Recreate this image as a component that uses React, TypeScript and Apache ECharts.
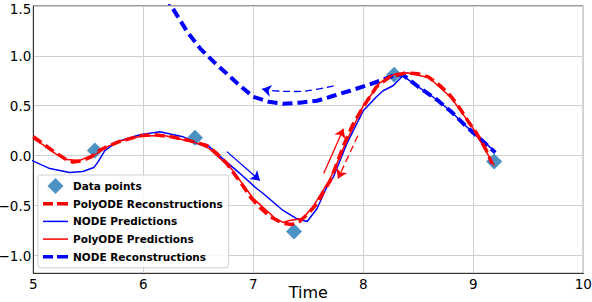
import React, { useEffect, useRef } from "react";
import * as echarts from "echarts";

// Observations
const obsX = [5.56, 6.47, 7.37, 8.28, 9.19];
const obsY = [0.05, 0.18, -0.76, 0.81, -0.06];

// PolyODE reconstructions (thick red dashed)
const polyRecX = [5.0, 5.1, 5.2, 5.3, 5.36, 5.45, 5.53, 5.6, 5.67, 5.78, 5.88, 5.97, 6.1, 6.25, 6.42, 6.58, 6.67, 6.76, 6.91, 6.97, 7.06, 7.15, 7.27, 7.35, 7.42, 7.5, 7.58, 7.65, 7.7, 7.77, 7.82, 7.9, 8.0, 8.12, 8.24, 8.39, 8.5, 8.59, 8.7, 8.8, 8.88, 8.95, 9.02, 9.07, 9.12, 9.17];
const polyRecY = [0.19, 0.11, 0.03, -0.04, -0.065, -0.05, -0.01, 0.05, 0.09, 0.14, 0.17, 0.2, 0.21, 0.19, 0.15, 0.1, 0.02, -0.08, -0.31, -0.41, -0.52, -0.61, -0.68, -0.69, -0.66, -0.58, -0.48, -0.34, -0.25, -0.05, 0.1, 0.3, 0.49, 0.69, 0.79, 0.83, 0.82, 0.79, 0.7, 0.59, 0.47, 0.35, 0.24, 0.15, 0.05, -0.08];

// PolyODE predictions (thin red solid)
const polyPredX = [5.0, 5.1, 5.2, 5.3, 5.42, 5.5, 5.58, 5.65, 5.8, 6.0, 6.2, 6.4, 6.5, 6.6, 6.8, 7.0, 7.2, 7.27, 7.33, 7.45, 7.55, 7.7, 7.85, 8.0, 8.15, 8.29, 8.4, 8.6, 8.8, 9.0, 9.19];
const polyPredY = [0.17, 0.1, 0.02, -0.04, -0.05, -0.01, 0.02, 0.08, 0.15, 0.2, 0.2, 0.15, 0.12, 0.07, -0.13, -0.43, -0.63, -0.67, -0.65, -0.63, -0.5, -0.23, 0.15, 0.5, 0.73, 0.82, 0.83, 0.78, 0.58, 0.27, -0.1];

// NODE predictions (thin blue solid)
const nodePredX = [4.97, 5.15, 5.33, 5.45, 5.55, 5.59, 5.65, 5.76, 5.97, 6.15, 6.36, 6.49, 6.58, 6.7, 6.88, 7.03, 7.09, 7.27, 7.39, 7.49, 7.58, 7.67, 7.73, 7.85, 8.0, 8.12, 8.18, 8.27, 8.36, 8.5, 8.67, 8.8, 8.91, 9.05, 9.2];
const nodePredY = [-0.04, -0.13, -0.17, -0.16, -0.12, -0.06, 0.05, 0.14, 0.21, 0.24, 0.19, 0.12, 0.11, -0.01, -0.18, -0.33, -0.38, -0.55, -0.63, -0.66, -0.53, -0.31, -0.21, 0.12, 0.45, 0.59, 0.65, 0.7, 0.8, 0.69, 0.56, 0.44, 0.32, 0.18, 0.04];

// NODE reconstructions (thick blue dashed)
const nodeRecX = [6.2, 6.26, 6.4, 6.52, 6.65, 6.76, 6.88, 7.0, 7.14, 7.27, 7.42, 7.58, 7.73, 7.88, 8.02, 8.15, 8.27, 8.36, 8.5, 8.67, 8.8, 8.91, 9.05, 9.2];
const nodeRecY = [1.6, 1.49, 1.24, 1.07, 0.93, 0.82, 0.7, 0.59, 0.54, 0.52, 0.53, 0.55, 0.6, 0.65, 0.7, 0.75, 0.8, 0.81, 0.69, 0.56, 0.44, 0.32, 0.18, 0.03];

// Annotation arrows [x1, y1, x2, y2]
const arrowNodePred = [6.76, 0.04, 7.06, -0.25];
const arrowPolyPred = [7.64, -0.18, 7.82, 0.27];
const arrowPolyRec = [7.95, 0.2, 7.77, -0.23];
// Curved (dashed blue) arrow: body points and head segment
const curvedArrowX = [7.73, 7.55, 7.38, 7.22, 7.1];
const curvedArrowY = [0.7, 0.66, 0.643, 0.648, 0.662];
const curvedHead = [7.12, 0.658, 7.08, 0.667];

const legendNames = [
  "Data points",
  "PolyODE Reconstructions",
  "NODE Predictions",
  "PolyODE Predictions",
  "NODE Reconstructions",
];

const BLUE = "#0000ff";
const RED = "#ff0000";
const DOT = "#1f77b4";
const ICON_DIAMOND = "path://M8,0L16,8L8,16L0,8Z";
const ICON_DASH = "path://M0,0H10V3.6H0Z M14,0H25V3.6H14Z";
const ICON_LINE = "path://M0,0H25V1.5H0Z";
const legendIcons = [ICON_DIAMOND, ICON_DASH, ICON_LINE, ICON_LINE, ICON_DASH];
const legendColors = [DOT, RED, BLUE, RED, BLUE];

const zip = (xs: number[], ys: number[]) => xs.map((x, i) => [x, ys[i]]);

const arrow = (a: number[], color: string, dashed: boolean, width = 1.3) => [
  {
    coord: [a[0], a[1]],
    lineStyle: { color, width, type: dashed ? [7, 4] : "solid" },
    itemStyle: { color },
  },
  { coord: [a[2], a[3]], itemStyle: { color } },
];

export default function App() {
  const ref = useRef<HTMLDivElement>(null);
  useEffect(() => {
    if (!ref.current) return;
    const chart = echarts.init(ref.current, undefined, { renderer: "svg" });
    const font = "DejaVu Sans";
    chart.setOption({
      animation: false,
      grid: {
        left: 33.3,
        right: 8.7,
        top: 6,
        bottom: 28.7,
        show: true,
        borderColor: "#333",
        borderWidth: 1,
        outerBoundsMode: "none",
        containLabel: false,
      },
      legend: {
        data: legendNames.map((n, i) => ({
          name: n,
          icon: legendIcons[i],
          itemStyle: { color: legendColors[i], borderWidth: 0 },
        })),
        orient: "vertical",
        left: 38,
        top: 175,
        itemWidth: 25,
        itemHeight: 16,
        itemGap: 1.7,
        symbolKeepAspect: true,
        padding: [3, 6, 3, 5],
        backgroundColor: "rgba(255,255,255,0.85)",
        borderColor: "#d0d0d0",
        borderWidth: 1,
        borderRadius: 3,
        textStyle: { fontFamily: font, fontSize: 10.5, fontWeight: "bold", color: "#000", lineHeight: 16 },
      },
      xAxis: {
        type: "value",
        min: 5,
        max: 10,
        interval: 1,
        name: "Time",
        nameLocation: "middle",
        nameGap: 12.5,
        nameMoveOverlap: false,
        nameTextStyle: { fontFamily: font, fontSize: 16, color: "#000", lineHeight: 14 },
        axisLine: { show: true, onZero: false, lineStyle: { color: "#333", width: 1 } },
        axisTick: { show: false },
        axisLabel: { fontFamily: font, fontSize: 13.5, color: "#000", margin: 4 },
        splitLine: { show: true, lineStyle: { color: "#cfcfcf", width: 1 } },
      },
      yAxis: {
        type: "value",
        min: -1.18,
        max: 1.5,
        splitNumber: 5,
        minInterval: 0.5,
        maxInterval: 0.5,
        axisLine: { show: true, onZero: false, lineStyle: { color: "#333", width: 1 } },
        axisTick: { show: false },
        axisLabel: {
          fontFamily: font,
          fontSize: 13.5,
          lineHeight: 12,
          padding: [1, 0, 0, 0],
          color: "#000",
          margin: 2,
          showMinLabel: false,
          formatter: (v: number) => {
            const s = (v < 0 ? "\u2212" : "") + Math.abs(v).toFixed(1);
            return v >= 1.5 ? `{t|${s}}` : s;
          },
          rich: {
            t: { fontFamily: font, fontSize: 13.5, lineHeight: 12, color: "#000", padding: [5, 0, 0, 0] },
          },
        },
        splitLine: { show: true, lineStyle: { color: "#cfcfcf", width: 1 } },
      },
      series: [
        {
          name: "Data points",
          type: "scatter",
          data: zip(obsX, obsY),
          symbol: "diamond",
          symbolSize: 16,
          itemStyle: { color: DOT },
          z: 1,
        },
        {
          name: "NODE Reconstructions",
          type: "line",
          data: zip(nodeRecX, nodeRecY),
          symbol: "none",
          lineStyle: { color: BLUE, width: 4, type: [10, 5] },
          itemStyle: { color: BLUE },
          z: 2,
        },
        {
          name: "NODE Predictions",
          type: "line",
          data: zip(nodePredX, nodePredY),
          symbol: "none",
          lineStyle: { color: BLUE, width: 1.5 },
          itemStyle: { color: BLUE },
          z: 3,
        },
        {
          name: "PolyODE Reconstructions",
          type: "line",
          data: zip(polyRecX, polyRecY),
          symbol: "none",
          lineStyle: { color: RED, width: 3.5, type: [10, 5] },
          itemStyle: { color: RED },
          z: 4,
        },
        {
          name: "PolyODE Predictions",
          type: "line",
          data: zip(polyPredX, polyPredY),
          symbol: "none",
          lineStyle: { color: RED, width: 1.5 },
          itemStyle: { color: RED },
          z: 5,
        },
        {
          name: "arrows",
          type: "line",
          data: [],
          symbol: "none",
          z: 6,
          markLine: {
            silent: true,
            symbol: ["none", "arrow"],
            symbolSize: 9,
            label: { show: false },
            animation: false,
            data: [
              arrow(arrowNodePred, BLUE, false),
              arrow(arrowPolyPred, RED, false),
              arrow(arrowPolyRec, RED, true),
              arrow(curvedHead, BLUE, false, 1.3),
            ],
          },
        },
        {
          name: "curvedArrow",
          type: "line",
          data: zip(curvedArrowX, curvedArrowY),
          symbol: "none",
          smooth: true,
          lineStyle: { color: BLUE, width: 1.3, type: [7, 4] },
          z: 6,
        },
      ],
    });
    return () => chart.dispose();
  }, []);
  return <div ref={ref} style={{ width: 592, height: 302, position: "absolute", left: 0, top: 0 }} />;
}
